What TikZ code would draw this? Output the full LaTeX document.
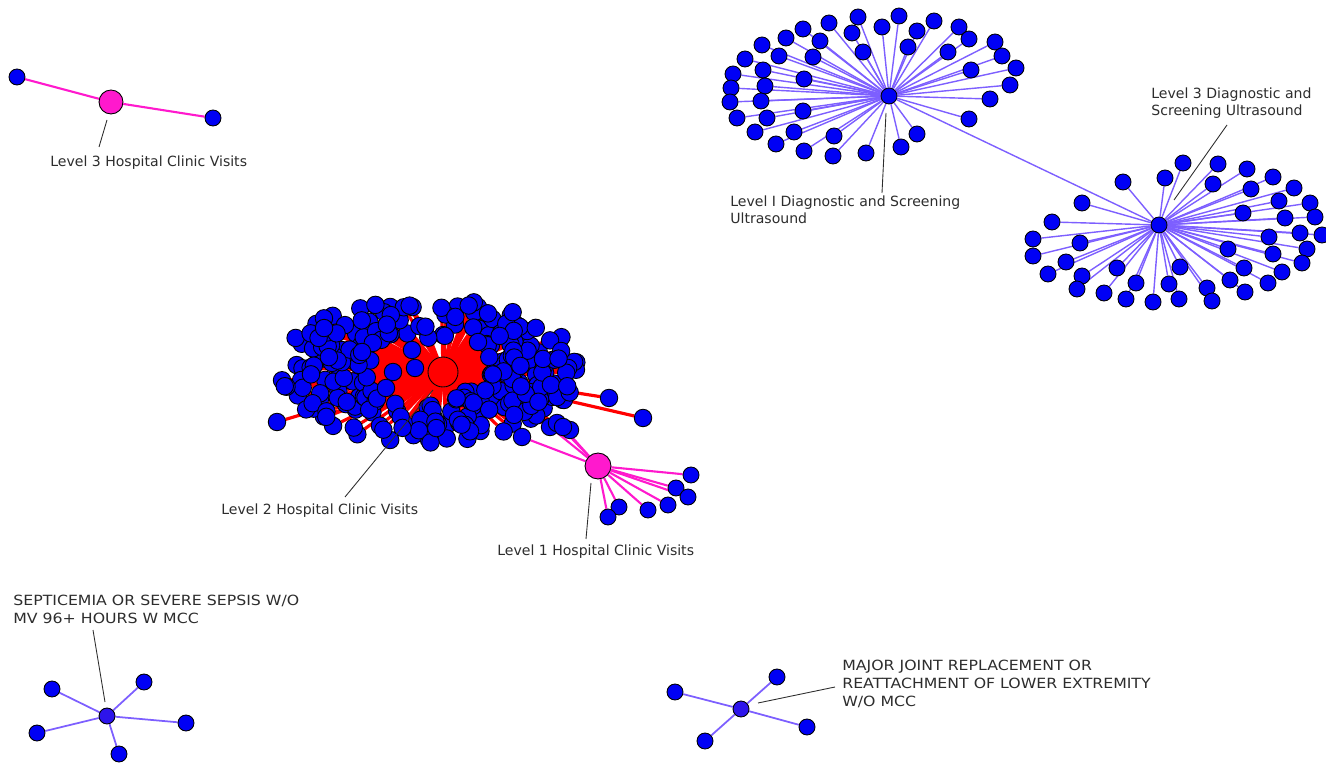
\documentclass[tikz,border=0pt]{standalone}
\usepackage{fontspec}
\setmainfont{DejaVu Sans}
\newfontfamily\capsfont[FakeStretch=1.12]{DejaVu Sans}
\usetikzlibrary{backgrounds}
\definecolor{leafblue}{RGB}{0,0,245}
\definecolor{hubblue}{RGB}{45,20,235}
\definecolor{ultraedge}{RGB}{125,95,255}
\definecolor{clinicpink}{RGB}{255,25,205}
\definecolor{clinicred}{RGB}{255,0,0}
\definecolor{labelgray}{RGB}{45,45,45}

\begin{document}
\begin{tikzpicture}[x=0.02cm,y=-0.02cm,
    leaf/.style={circle,draw=black,fill=leafblue,line width=0.5pt,inner sep=0pt,minimum size=0.32cm},
    bigleaf/.style={leaf,minimum size=0.35cm},
    smallhub/.style={leaf,fill=hubblue},
    pinkhub/.style={leaf,fill=clinicpink,minimum size=0.48cm},
    redhub/.style={leaf,fill=clinicred,minimum size=0.6cm},
    uedge/.style={draw=ultraedge,line width=0.8pt},
    pinkedge/.style={draw=clinicpink,line width=1.2pt},
    rededge/.style={draw=clinicred,line width=1.8pt},
    pointer/.style={draw=labelgray,line width=0.5pt},
    lbl/.style={anchor=north west,inner sep=0pt,align=left,text=labelgray,
      font=\fontsize{8}{10.2}\selectfont}]
  \useasboundingbox (0,0) rectangle (1326,763);

  % level 3 hospital clinic visits
  \node[pinkhub] (l3hub) at (111,102) {};
  \node[leaf] (l3a) at (17,77) {};
  \node[leaf] (l3b) at (213,118) {};
  \begin{scope}[on background layer]
    \draw[pinkedge] (l3hub) -- (l3a) (l3hub) -- (l3b);
  \end{scope}
  \node[lbl] (l3lbl) at (50,155) {Level 3 Hospital Clinic Visits};
  \coordinate (l3tip) at (107,120);
  \coordinate (l3foot) at (99,147);
  \draw[pointer] (l3tip) -- (l3foot);

  % level I ultrasound
  \node[smallhub,fill=leafblue] (u1hub) at (889,96) {};
  \foreach \p [count=\k] in {(858,17),(899,16),(934,21),(829,23),(959,27),(803,29),
      (882,27),(852,33),(917,31),(969,39),(786,38),(820,41),(995,42),(762,45),(863,52),
      (908,47),(948,52),(1002,56),(745,59),(813,57),(779,56),(1016,68),(733,74),(763,70),
      (971,70),(804,79),(731,88),(765,86),(1010,85),(730,102),(761,101),(990,99),(803,111),
      (737,118),(767,118),(969,119),(755,132),(794,132),(834,136),(917,134),(776,144),
      (804,151),(901,147),(833,156),(866,153)}
    \node[leaf] (u1\k) at \p {};
  \begin{scope}[on background layer]
    \foreach \k in {1,...,45}
      \draw[uedge] (u1hub) -- (u1\k);
  \end{scope}

  % level 3 ultrasound
  \node[smallhub,fill=leafblue] (u3hub) at (1159,225) {};
  \foreach \p [count=\k] in {(1183,163),(1218,164),(1247,169),(1273,177),(1165,178),
      (1123,182),(1213,184),(1251,189),(1294,188),(1082,203),(1279,201),(1310,203),
      (1243,213),(1315,217),(1285,218),(1052,222),(1322,235),(1300,233),(1269,237),
      (1033,239),(1080,243),(1228,249),(1273,254),(1307,249),(1033,256),(1066,262),
      (1302,263),(1180,267),(1244,268),(1117,268),(1282,272),(1048,274),(1082,276),
      (1230,280),(1268,283),(1136,283),(1169,284),(1207,288),(1077,289),(1104,293),
      (1245,292),(1179,299),(1126,299),(1153,302),(1212,301)}
    \node[leaf] (u3\k) at \p {};
  \begin{scope}[on background layer]
    \foreach \k in {1,...,45}
      \draw[uedge] (u3hub) -- (u3\k);
    \draw[uedge] (u1hub) -- (u3hub);
  \end{scope}
  \node[lbl] (u1lbl) at (730,195) {Level I Diagnostic and Screening\\Ultrasound};
  \node[lbl] (u3lbl) at (1151,87) {Level 3 Diagnostic and\\Screening Ultrasound};
  \coordinate (u1tip) at (886,113);
  \coordinate (u1foot) at (882,193);
  \coordinate (u3tip) at (1174,200);
  \coordinate (u3foot) at (1227,125);
  \draw[pointer] (u1tip) -- (u1foot);
  \draw[pointer] (u3tip) -- (u3foot);

  % level 2 hospital clinic visits (dense cluster)
  \pgfmathsetseed{42}
  \foreach \k in {1,...,260}{
    \pgfmathsetmacro\ang{360*rnd}
    \pgfmathsetmacro\rr{sqrt(0.15+0.85*rnd)}
    \node[bigleaf] (b\k) at ({428+150*\rr*cos(\ang)},{370+73*\rr*sin(\ang)}) {};
  }
  \foreach \p [count=\k] in {(393,372),(415,368),(386,388),(412,350),(478,342),(362,352)}
    \node[bigleaf] (bin\k) at \p {};
  \foreach \p [count=\k] in {(277,422),(609,398),(643,418),(570,430)}
    \node[bigleaf] (bout\k) at \p {};
  \foreach \p [count=\k] in {(522,437),(550,427),(557,423),(563,427)}
    \node[bigleaf] (bl\k) at \p {};
  \node[redhub] (l2hub) at (443,372) {};

  % level 1 hospital clinic visits
  \node[pinkhub,minimum size=0.52cm] (l1hub) at (598,466) {};
  \foreach \p [count=\k] in {(691,475),(676,488),(688,497),(668,505),(648,510),(619,507),(608,517)}
    \node[leaf] (l1\k) at \p {};

  \begin{scope}[on background layer]
    \foreach \k in {1,...,260}
      \draw[rededge] (l2hub) -- (b\k);
    \foreach \k in {1,...,6}
      \draw[rededge] (l2hub) -- (bin\k);
    \foreach \k in {1,...,4}{
      \draw[rededge] (l2hub) -- (bout\k);
      \draw[rededge] (l2hub) -- (bl\k);
      \draw[pinkedge] (l1hub) -- (bl\k);
    }
    \foreach \k in {1,...,7}
      \draw[pinkedge] (l1hub) -- (l1\k);
  \end{scope}
  \node[lbl] (l2lbl) at (221,503) {Level 2 Hospital Clinic Visits};
  \node[lbl] (l1lbl) at (497,544) {Level 1 Hospital Clinic Visits};
  \coordinate (l2tip) at (433,390);
  \coordinate (l2foot) at (345,497);
  \coordinate (l1tip) at (591,483);
  \coordinate (l1foot) at (586,539);
  \draw[pointer] (l2tip) -- (l2foot);
  \draw[pointer] (l1tip) -- (l1foot);

  % septicemia
  \node[smallhub] (sephub) at (107,716) {};
  \foreach \p [count=\k] in {(52,689),(144,682),(37,733),(186,723),(119,754)}
    \node[leaf] (sep\k) at \p {};
  \begin{scope}[on background layer]
    \foreach \k in {1,...,5}
      \draw[uedge,line width=1pt] (sephub) -- (sep\k);
  \end{scope}
  \node[lbl,font=\capsfont\fontsize{8}{10.2}\selectfont] (seplbl) at (13,595)
    {SEPTICEMIA OR SEVERE SEPSIS W/O\\MV 96+ HOURS W MCC};
  \coordinate (septip) at (105,702);
  \coordinate (sepfoot) at (93,630);
  \draw[pointer] (septip) -- (sepfoot);

  % major joint replacement
  \node[smallhub] (jnthub) at (741,709) {};
  \foreach \p [count=\k] in {(675,692),(777,677),(807,727),(705,741)}
    \node[leaf] (jnt\k) at \p {};
  \begin{scope}[on background layer]
    \foreach \k in {1,...,4}
      \draw[uedge,line width=1pt] (jnthub) -- (jnt\k);
  \end{scope}
  \node[lbl,font=\capsfont\fontsize{8}{10.2}\selectfont] (jntlbl) at (842,660)
    {MAJOR JOINT REPLACEMENT OR\\REATTACHMENT OF LOWER EXTREMITY\\W/O MCC};
  \coordinate (jnttip) at (758,703);
  \coordinate (jntfoot) at (835,687);
  \draw[pointer] (jnttip) -- (jntfoot);
\end{tikzpicture}
\end{document}
